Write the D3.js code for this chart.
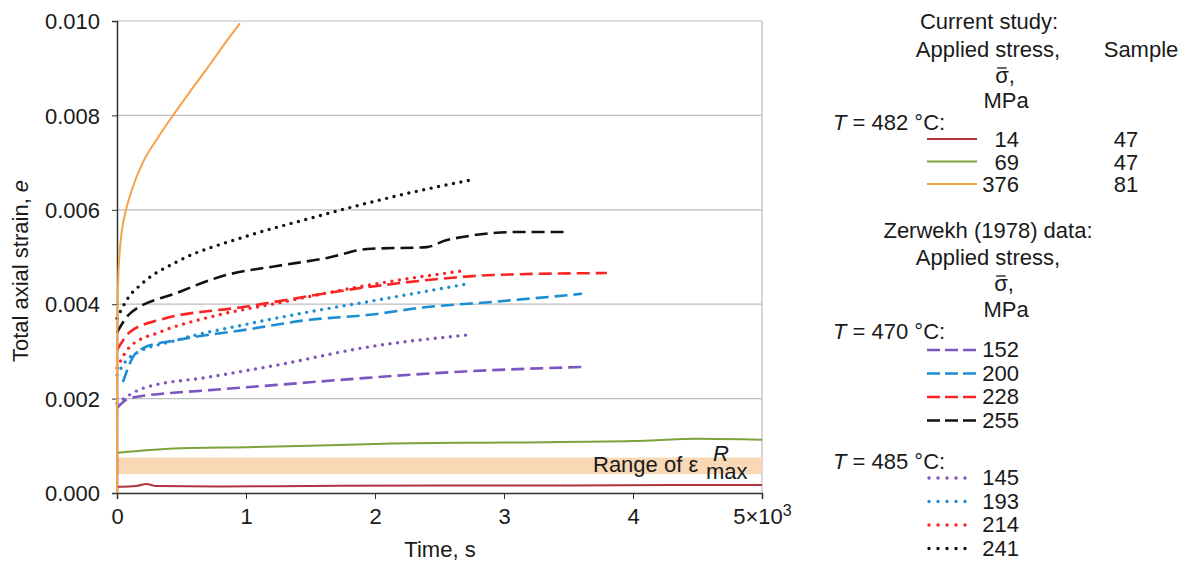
<!DOCTYPE html>
<html>
<head>
<meta charset="utf-8">
<script src="https://cdn.jsdelivr.net/npm/d3@7"></script>
<style>
  html, body { margin: 0; padding: 0; background: #fff; }
  svg { display: block; font-family: "Liberation Sans", Arial, sans-serif; }
</style>
</head>
<body>
<svg id="chart" width="1188" height="565"></svg>
<script>
// Creep curves: total axial strain vs time, [time s, strain]
const s14  = [[0,0.00013],[150,0.00015],[230,0.00019],[300,0.00015],[800,0.00014],[1500,0.00015],[2500,0.00016],[3500,0.00016],[4300,0.00017],[5000,0.00017]];
const s69  = [[0,0.00085],[200,0.0009],[500,0.00095],[1000,0.00097],[1500,0.001],[2000,0.00104],[3000,0.00107],[4000,0.0011],[4500,0.00115],[5000,0.00113]];
const s376 = [[0,0],[1,0.0026],[3,0.0036],[8,0.0044],[18,0.005],[35,0.0055],[70,0.006],[125,0.0065],[200,0.007],[310,0.0075],[434,0.008],[565,0.0085],[700,0.009],[830,0.0095],[953,0.00995]];

// Zerwekh (1978), T = 470 °C (dashed)
const z152 = [[0,0.0018],[100,0.00201],[721,0.00218],[1240,0.00229],[1938,0.00244],[2659,0.00257],[3605,0.00267]];
const z200 = [[46,0.00235],[124,0.00288],[202,0.00307],[465,0.00324],[977,0.00345],[1496,0.00367],[1938,0.00377],[2403,0.00394],[2915,0.00405],[3605,0.00422]];
const z228 = [[0,0.00303],[100,0.00341],[333,0.00367],[977,0.00394],[1938,0.00436],[2558,0.00455],[2915,0.00462],[3798,0.00466]];
const z255 = [[0,0.0034],[100,0.0038],[465,0.00424],[850,0.00462],[1240,0.00481],[1628,0.00498],[1938,0.00517],[2403,0.00521],[2558,0.00536],[3124,0.00553],[3496,0.00553]];

// Zerwekh (1978), T = 485 °C (dotted)
const z145 = [[0,0.0019],[202,0.00222],[721,0.00246],[1240,0.00271],[1938,0.00309],[2721,0.00335]];
const z193 = [[0,0.0025],[100,0.00288],[465,0.00324],[977,0.00356],[1496,0.00384],[1938,0.00405],[2713,0.00443]];
const z214 = [[0,0.00265],[100,0.0031],[333,0.00341],[721,0.00373],[1240,0.00402],[1938,0.0044],[2713,0.00472]];
const z241 = [[0,0.0037],[78,0.0041],[200,0.00445],[465,0.0049],[980,0.00542],[1496,0.00582],[1938,0.00614],[2271,0.00636],[2775,0.00665]];

// Band of maximum recoverable strain
const bandRange = [0.0004, 0.00075];

// Axis ticks
const xTicks = [0, 1000, 2000, 3000, 4000, 5000];
const yTicks = [0, 0.002, 0.004, 0.006, 0.008, 0.010];

// Legend groups
const curStress = ["14", "69", "376"];
const curSample = ["47", "47", "81"];
const z470Stress = ["152", "200", "228", "255"];
const z485Stress = ["145", "193", "214", "241"];

const colors = {
  s14: "#b0343f", s69: "#7fa33c", s376: "#f6a248",
  purple: "#7d55c0", blue: "#1d8ed4", red: "#fb2424", black: "#111111"
};

const svg = d3.select("#chart");
const plot = { left: 117, right: 762, top: 21, bottom: 493 };
const x = d3.scaleLinear().domain([0, 5000]).range([plot.left, plot.right]);
const y = d3.scaleLinear().domain([0, 0.010]).range([plot.bottom, plot.top]);

const FONT = 22;
const INK = "#1a1a1a";

// gridlines
svg.append("g").selectAll("line").data(yTicks.filter(d => d > 0)).join("line")
  .attr("x1", plot.left).attr("x2", plot.right)
  .attr("y1", d => y(d)).attr("y2", d => y(d))
  .attr("stroke", "#bdbdbd").attr("stroke-width", 1.2);
// right frame
svg.append("line").attr("x1", plot.right).attr("x2", plot.right)
  .attr("y1", plot.top).attr("y2", plot.bottom)
  .attr("stroke", "#bdbdbd").attr("stroke-width", 1.2);

// recoverable-strain band
svg.append("rect")
  .attr("x", plot.left).attr("width", plot.right - plot.left)
  .attr("y", y(bandRange[1])).attr("height", y(bandRange[0]) - y(bandRange[1]))
  .attr("fill", "#f9d8b6");

// axes
const yAxis = d3.axisLeft(y).tickValues(yTicks).tickFormat(d3.format(".3f")).tickSize(5).tickPadding(12);
const gy = svg.append("g").attr("transform", `translate(${plot.left},0)`).call(yAxis);
gy.select(".domain").attr("stroke", "#333").attr("stroke-width", 1.5);
gy.selectAll(".tick line").attr("stroke", "#333");
gy.selectAll("text").attr("font-size", FONT).attr("fill", INK).attr("dy", "0.35em")
  .attr("font-family", "Liberation Sans, Arial, sans-serif");

const xAxis = d3.axisBottom(x).tickValues(xTicks).tickFormat(d => d / 1000).tickSize(6).tickPadding(9);
const gx = svg.append("g").attr("transform", `translate(0,${plot.bottom})`).call(xAxis);
gx.select(".domain").attr("stroke", "#333").attr("stroke-width", 1.5);
gx.selectAll(".tick line").attr("stroke", "#333");
gx.selectAll("text").attr("font-size", FONT).attr("fill", INK)
  .attr("font-family", "Liberation Sans, Arial, sans-serif");
// last tick label: 5×10^3
const last = gx.selectAll(".tick").filter(d => d === 5000).select("text");
last.text(null);
last.append("tspan").text("5×10");
last.append("tspan").attr("dy", "-0.45em").attr("font-size", 16).text("3");

// curves
const line = d3.line().x(d => x(d[0])).y(d => y(d[1])).curve(d3.curveMonotoneX);

const series = [
  { data: s14, color: colors.s14, style: "solid" },
  { data: s69, color: colors.s69, style: "solid" },
  { data: z152, color: colors.purple, style: "dash" },
  { data: z145, color: colors.purple, style: "dot" },
  { data: z200, color: colors.blue, style: "dash" },
  { data: z193, color: colors.blue, style: "dot" },
  { data: z228, color: colors.red, style: "dash" },
  { data: z214, color: colors.red, style: "dot" },
  { data: z255, color: colors.black, style: "dash" },
  { data: z241, color: colors.black, style: "dot" },
  { data: s376, color: colors.s376, style: "solid" }
];

function applyStyle(sel, style, color) {
  sel.attr("fill", "none").attr("stroke", color);
  if (style === "solid") sel.attr("stroke-width", 2);
  if (style === "dash") sel.attr("stroke-width", 2.6).attr("stroke-dasharray", "13 6");
  if (style === "dot") sel.attr("stroke-width", 3.4).attr("stroke-linecap", "round").attr("stroke-dasharray", "0 7.6");
  return sel;
}

series.forEach(s => applyStyle(svg.append("path").attr("d", line(s.data)), s.style, s.color));

// band label: ε with superscript R and subscript max
const bl = svg.append("text").attr("x", 593).attr("y", 472).attr("font-size", FONT).attr("fill", INK);
bl.append("tspan").text("Range of ε");
bl.append("tspan").attr("x", 713).attr("dy", -11).attr("font-style", "italic").text("R");
bl.append("tspan").attr("x", 706).attr("dy", 18).text("max");

// axis titles
const yt = svg.append("text").attr("transform", "translate(28,271) rotate(-90)")
  .attr("text-anchor", "middle").attr("font-size", FONT).attr("fill", INK);
yt.append("tspan").text("Total axial strain, ");
yt.append("tspan").attr("font-style", "italic").text("e");
svg.append("text").attr("x", 440).attr("y", 557).attr("text-anchor", "middle")
  .attr("font-size", FONT).attr("fill", INK).text("Time, s");

// legend
const lg = svg.append("g").attr("font-size", FONT).attr("fill", INK);
const swX1 = 927, swX2 = 977, numX = 1019;
function txt(xp, yp, s, anchor) {
  return lg.append("text").attr("x", xp).attr("y", yp).attr("text-anchor", anchor || "start").text(s);
}
function tempLabel(yp, t) {
  const el = lg.append("text").attr("x", 833).attr("y", yp);
  el.append("tspan").attr("font-style", "italic").text("T");
  el.append("tspan").text(` = ${t} °C:`);
}
// sigma with an overbar
function sigma(xp, yp) {
  const el = txt(xp, yp, "σ,", "middle");
  const box = el.node().getExtentOfChar(0);
  lg.append("line")
    .attr("x1", box.x + 2).attr("x2", box.x + box.width - 2)
    .attr("y1", yp - 15).attr("y2", yp - 15)
    .attr("stroke", INK).attr("stroke-width", 1.3);
}
function swatch(yp, color, style) {
  const sw = lg.append("line").attr("x1", swX1).attr("x2", swX2).attr("y1", yp).attr("y2", yp);
  applyStyle(sw, style, color);
  if (style === "dash") sw.attr("stroke-dasharray", "13 5");
  if (style === "dot") sw.attr("stroke-dasharray", "0 9").attr("x1", swX1 + 2).attr("x2", swX2 - 4);
}

// current study block
txt(989, 29, "Current study:", "middle");
txt(988, 57, "Applied stress,", "middle");
txt(1141, 57, "Sample", "middle");
sigma(1005, 83);
txt(1006, 108, "MPa", "middle");
tempLabel(130, 482);
const curColors = [colors.s14, colors.s69, colors.s376];
curStress.forEach((v, i) => {
  const yp = 147 + i * 22.5;
  swatch(yp - 8, curColors[i], "solid");
  txt(numX, yp, v, "end");
  txt(1126, yp, curSample[i], "middle");
});

// Zerwekh block
txt(988, 238, "Zerwekh (1978) data:", "middle");
txt(988, 265, "Applied stress,", "middle");
sigma(1004, 291);
txt(1006, 317, "MPa", "middle");
tempLabel(339, 470);
const zColors = [colors.purple, colors.blue, colors.red, colors.black];
z470Stress.forEach((v, i) => {
  const yp = 357 + i * 23.5;
  swatch(yp - 7, zColors[i], "dash");
  txt(numX, yp, v, "end");
});
tempLabel(469, 485);
z485Stress.forEach((v, i) => {
  const yp = 485 + i * 23.5;
  swatch(yp - 7, zColors[i], "dot");
  txt(numX, yp, v, "end");
});
</script>
</body>
</html>
